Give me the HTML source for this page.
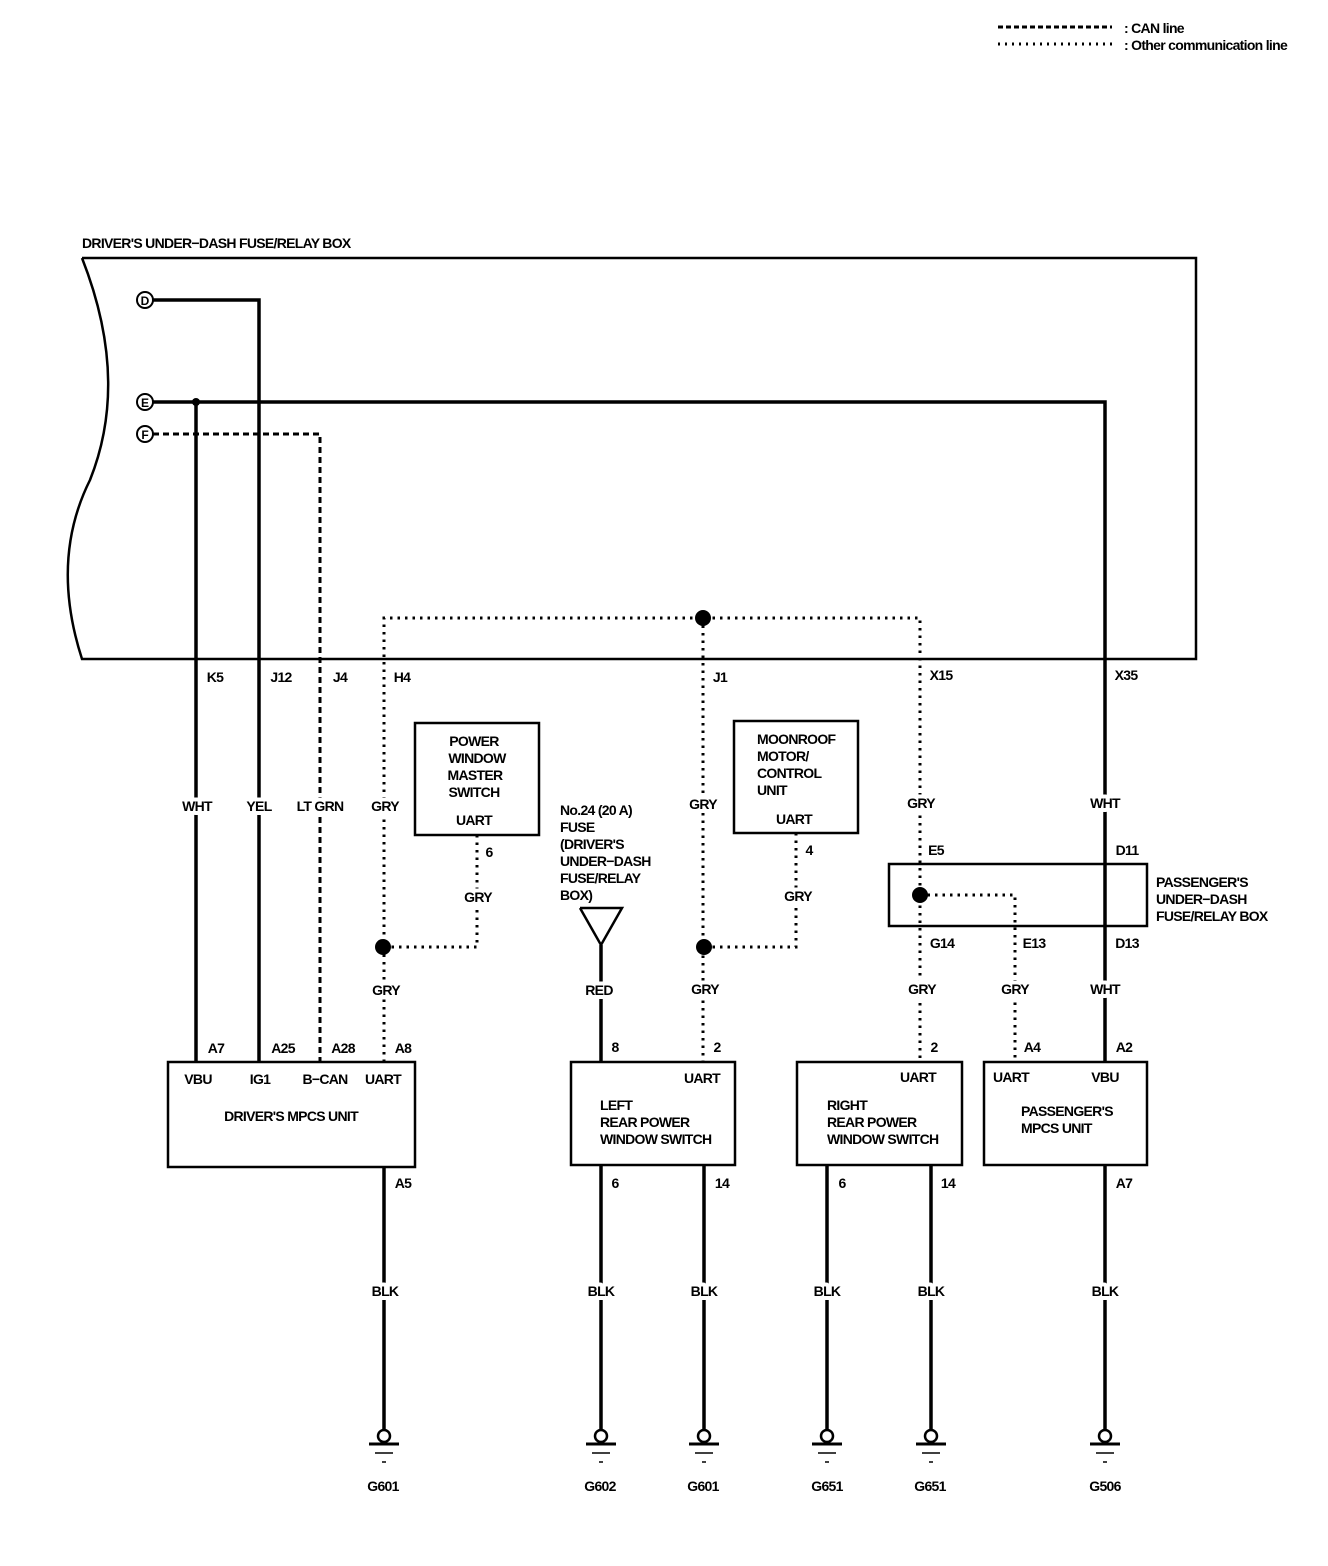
<!DOCTYPE html>
<html><head><meta charset="utf-8"><style>
html,body{margin:0;padding:0;background:#fff}
svg{display:block}
text{font-family:"Liberation Sans Narrow","Liberation Sans",sans-serif;font-weight:bold;font-size:14px;letter-spacing:-0.7px;fill:#000}
.m{text-anchor:middle}
.w text{paint-order:stroke;stroke:#fff;stroke-width:8px;stroke-linejoin:round}
</style></head><body>
<svg width="1328" height="1566" viewBox="0 0 1328 1566" xmlns="http://www.w3.org/2000/svg">
<g fill="none" stroke="#000">
<line x1="998" y1="27" x2="1112" y2="27" stroke-width="3" stroke-dasharray="5,3"/>
<line x1="998" y1="44" x2="1112" y2="44" stroke-width="3" stroke-dasharray="2,5"/>
<path d="M82,258 L1196,258 L1196,659 L82,659 Q50,560 90,480 Q130,380 82,258" stroke-width="2.5"/>
<g stroke-width="3.5">
<polyline points="153,300 259,300 259,1062"/>
<polyline points="153,402 1105,402 1105,1062"/>
<line x1="196" y1="402" x2="196" y2="1062"/>
<polyline points="580,908 622,908 601,945 580,908" stroke-width="2.5"/>
<line x1="601" y1="945" x2="601" y2="1062"/>
<line x1="384" y1="1167" x2="384" y2="1436"/>
<line x1="601" y1="1165" x2="601" y2="1436"/>
<line x1="704" y1="1165" x2="704" y2="1436"/>
<line x1="827" y1="1165" x2="827" y2="1436"/>
<line x1="931" y1="1165" x2="931" y2="1436"/>
<line x1="1105" y1="1165" x2="1105" y2="1436"/>
</g>
<polyline points="153,434 320,434 320,1062" stroke-width="3" stroke-dasharray="6,4"/>
<g stroke-width="3" stroke-dasharray="2.5,5">
<polyline points="384,1062 384,618 920,618 920,1062"/>
<line x1="703" y1="618" x2="703" y2="1062"/>
<polyline points="477,835 477,947 384,947"/>
<polyline points="796,833 796,947 704,947"/>
<polyline points="920,895 1015,895 1015,1062"/>
</g>
<g stroke-width="2" fill="#fff">
<circle cx="145" cy="300" r="8"/><circle cx="145" cy="402" r="8"/><circle cx="145" cy="434" r="8"/>
</g>
<g stroke-width="2.5">
<rect x="415" y="723" width="124" height="112"/>
<rect x="734" y="721" width="124" height="112"/>
<rect x="889" y="864" width="258" height="62"/>
<rect x="168" y="1062" width="247" height="105"/>
<rect x="571" y="1062" width="164" height="103"/>
<rect x="797" y="1062" width="165" height="103"/>
<rect x="984" y="1062" width="163" height="103"/>
</g>
<g stroke-width="2.5">
<g id="gnd"><circle cx="384" cy="1436" r="6" fill="#fff"/><line x1="369" y1="1444" x2="399" y2="1444" stroke-width="3"/><line x1="375" y1="1453" x2="393" y2="1453" stroke-width="1.5"/><line x1="382" y1="1462" x2="386" y2="1462" stroke-width="1.5"/></g>
<use href="#gnd" x="217"/><use href="#gnd" x="320"/><use href="#gnd" x="443"/><use href="#gnd" x="547"/><use href="#gnd" x="721"/>
</g>
</g>
<g fill="#000">
<circle cx="196" cy="402" r="4"/>
<circle cx="703" cy="618" r="8"/><circle cx="383" cy="947" r="8"/><circle cx="704" cy="947" r="8"/><circle cx="920" cy="895" r="8"/>
</g>
<text x="1124" y="33">: CAN line</text>
<text x="1124" y="50">: Other communication line</text>
<text x="82" y="248">DRIVER'S UNDER−DASH FUSE/RELAY BOX</text>
<text x="145" y="305" class="m" style="font-size:12px;letter-spacing:0">D</text>
<text x="145" y="407" class="m" style="font-size:12px;letter-spacing:0">E</text>
<text x="145" y="439" class="m" style="font-size:12px;letter-spacing:0">F</text>
<g class="m w">
<text x="197" y="811">WHT</text><text x="259" y="811">YEL</text><text x="320" y="811">LT GRN</text><text x="385" y="811">GRY</text>
<text x="703" y="809">GRY</text><text x="921" y="808">GRY</text><text x="1105" y="808">WHT</text>
<text x="478" y="902">GRY</text><text x="798" y="901">GRY</text>
<text x="599" y="995">RED</text>
<text x="386" y="995">GRY</text><text x="705" y="994">GRY</text><text x="922" y="994">GRY</text><text x="1015" y="994">GRY</text><text x="1105" y="994">WHT</text>
<text x="385" y="1296">BLK</text><text x="601" y="1296">BLK</text><text x="704" y="1296">BLK</text><text x="827" y="1296">BLK</text><text x="931" y="1296">BLK</text><text x="1105" y="1296">BLK</text>
</g>
<g class="m">
<text x="215" y="682">K5</text><text x="281" y="682">J12</text><text x="340" y="682">J4</text><text x="402" y="682">H4</text>
<text x="720" y="682">J1</text><text x="941" y="680">X15</text><text x="1126" y="680">X35</text>
<text x="474" y="746">POWER</text><text x="477" y="763">WINDOW</text><text x="475" y="780">MASTER</text><text x="474" y="797">SWITCH</text>
<text x="474" y="825">UART</text><text x="489" y="857">6</text>
<text x="794" y="824">UART</text><text x="809" y="855">4</text>
<text x="936" y="855">E5</text><text x="1127" y="855">D11</text><text x="942" y="948">G14</text><text x="1034" y="948">E13</text><text x="1127" y="948">D13</text>
<text x="216" y="1053">A7</text><text x="283" y="1053">A25</text><text x="343" y="1053">A28</text><text x="403" y="1053">A8</text>
<text x="198" y="1084">VBU</text><text x="260" y="1084">IG1</text><text x="325" y="1084">B−CAN</text><text x="383" y="1084">UART</text>
<text x="291" y="1121">DRIVER'S MPCS UNIT</text>
<text x="403" y="1188">A5</text>
<text x="615" y="1052">8</text><text x="717" y="1052">2</text><text x="702" y="1083">UART</text>
<text x="615" y="1188">6</text><text x="722" y="1188">14</text>
<text x="934" y="1052">2</text><text x="918" y="1082">UART</text>
<text x="842" y="1188">6</text><text x="948" y="1188">14</text>
<text x="1032" y="1052">A4</text><text x="1124" y="1052">A2</text><text x="1011" y="1082">UART</text><text x="1105" y="1082">VBU</text>
<text x="1124" y="1188">A7</text>
<text x="383" y="1491">G601</text><text x="600" y="1491">G602</text><text x="703" y="1491">G601</text><text x="827" y="1491">G651</text><text x="930" y="1491">G651</text><text x="1105" y="1491">G506</text>
</g>
<text x="757" y="744">MOONROOF</text><text x="757" y="761">MOTOR/</text><text x="757" y="778">CONTROL</text><text x="757" y="795">UNIT</text>
<text x="560" y="815">No.24 (20 A)</text><text x="560" y="832">FUSE</text><text x="560" y="849">(DRIVER'S</text><text x="560" y="866">UNDER−DASH</text><text x="560" y="883">FUSE/RELAY</text><text x="560" y="900">BOX)</text>
<text x="1156" y="887">PASSENGER'S</text><text x="1156" y="904">UNDER−DASH</text><text x="1156" y="921">FUSE/RELAY BOX</text>
<text x="600" y="1110">LEFT</text><text x="600" y="1127">REAR POWER</text><text x="600" y="1144">WINDOW SWITCH</text>
<text x="827" y="1110">RIGHT</text><text x="827" y="1127">REAR POWER</text><text x="827" y="1144">WINDOW SWITCH</text>
<text x="1021" y="1116">PASSENGER'S</text><text x="1021" y="1133">MPCS UNIT</text>
</svg>
</body></html>
